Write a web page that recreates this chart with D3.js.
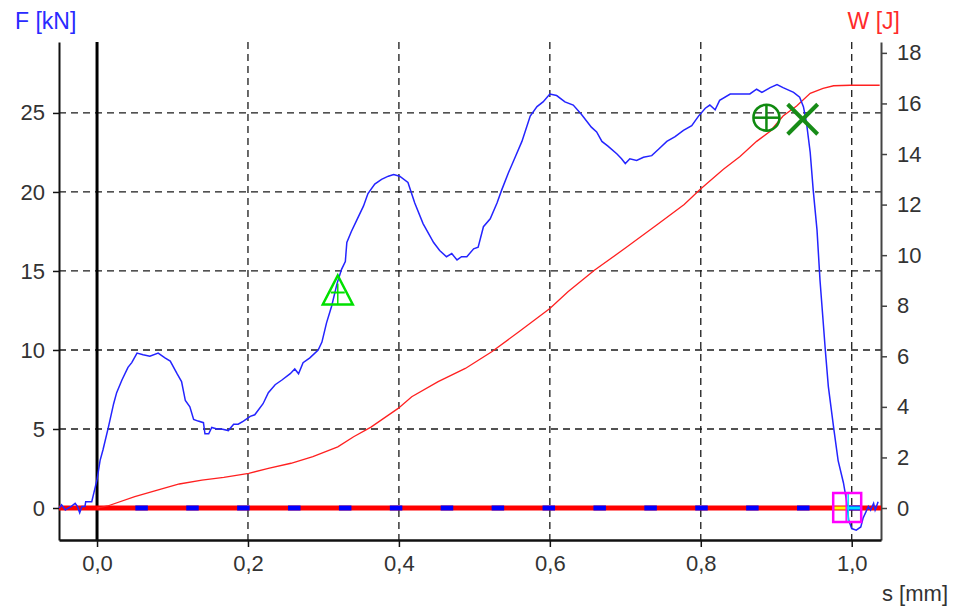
<!DOCTYPE html>
<html>
<head>
<meta charset="utf-8">
<script src="https://cdn.jsdelivr.net/npm/d3@7"></script>
<style>
  body { margin: 0; background: #fff; }
  text { font-family: "Liberation Sans", Arial, sans-serif; }
</style>
</head>
<body>
<div id="chart"></div>
<script>
// force curve F [kN] over travel s [mm]
const forceS = [-0.050,-0.047,-0.042,-0.038,-0.034,-0.029,-0.026,-0.023,-0.020,-0.016,-0.015,-0.007,-0.005,0.000,0.004,0.008,0.015,0.022,0.026,0.033,0.041,0.046,0.053,0.061,0.070,0.081,0.090,0.097,0.106,0.112,0.117,0.123,0.128,0.134,0.141,0.143,0.148,0.152,0.159,0.165,0.174,0.181,0.187,0.194,0.203,0.209,0.220,0.227,0.236,0.245,0.256,0.262,0.267,0.273,0.282,0.293,0.298,0.304,0.311,0.318,0.324,0.329,0.331,0.337,0.344,0.353,0.359,0.368,0.377,0.386,0.393,0.401,0.412,0.421,0.432,0.446,0.454,0.463,0.470,0.477,0.483,0.490,0.499,0.505,0.512,0.521,0.530,0.536,0.545,0.554,0.563,0.574,0.583,0.591,0.600,0.609,0.620,0.631,0.642,0.655,0.662,0.669,0.677,0.689,0.695,0.700,0.706,0.715,0.724,0.735,0.744,0.755,0.766,0.777,0.788,0.797,0.806,0.812,0.819,0.825,0.839,0.852,0.865,0.874,0.881,0.892,0.901,0.909,0.923,0.931,0.936,0.940,0.945,0.949,0.954,0.958,0.962,0.965,0.969,0.976,0.982,0.989,0.993,0.994,0.996,1.000,1.006,1.012,1.015,1.019,1.022,1.025,1.029,1.031,1.035];
const forceKN = [0.0,0.2,-0.13,0.0,0.1,0.3,0.1,-0.3,0.1,0.1,0.4,0.4,0.8,1.8,3.0,3.7,5.1,6.6,7.3,8.1,8.9,9.2,9.8,9.7,9.6,9.8,9.5,9.3,8.5,8.0,6.8,6.4,5.6,5.5,5.4,4.7,4.7,5.1,5.0,5.0,4.9,5.3,5.3,5.5,5.8,5.9,6.6,7.3,7.8,8.1,8.5,8.8,8.5,9.2,9.5,10.0,10.5,11.7,12.8,14.2,15.1,15.6,16.8,17.5,18.2,19.1,19.9,20.5,20.8,21.0,21.1,21.0,20.6,19.3,18.0,16.8,16.3,15.9,16.1,15.7,15.9,15.9,16.4,16.5,17.8,18.3,19.3,20.1,21.2,22.2,23.2,24.8,25.4,25.7,26.2,26.1,25.7,25.5,24.9,24.1,23.8,23.2,22.9,22.4,22.1,21.8,22.1,22.0,22.2,22.3,22.7,23.2,23.5,23.9,24.2,24.8,25.3,25.5,25.2,25.8,26.2,26.2,26.2,26.5,26.3,26.6,26.8,26.6,26.3,26.0,25.4,24.4,22.5,20.1,17.6,14.4,11.9,10.0,7.7,5.1,3.0,1.6,0.5,0.1,-0.76,-1.3,-1.4,-1.2,-0.65,-0.23,0.1,-0.13,0.3,-0.13,0.4];

// work curve W [J]
const workS = [0.000,0.014,0.050,0.080,0.109,0.139,0.168,0.201,0.227,0.257,0.286,0.319,0.340,0.363,0.399,0.417,0.452,0.488,0.523,0.559,0.600,0.624,0.659,0.701,0.742,0.778,0.799,0.830,0.852,0.874,0.892,0.909,0.927,0.945,0.962,0.976,0.998,1.037];
const workJ = [0,0.08,0.45,0.71,0.95,1.10,1.21,1.37,1.57,1.77,2.03,2.42,2.82,3.20,3.94,4.40,5.00,5.52,6.18,6.97,7.89,8.55,9.40,10.30,11.20,12.00,12.60,13.40,13.90,14.50,14.90,15.50,15.90,16.40,16.60,16.70,16.72,16.72];

// tick values
const sTicks = [0, 0.2, 0.4, 0.6, 0.8, 1.0];
const fTicks = [0, 5, 10, 15, 20, 25];
const wTicks = [0, 2, 4, 6, 8, 10, 12, 14, 16, 18];

// evaluation markers [s, F]
const markTriangle = [0.319, 13.7];
const markCircle = [0.887, 24.7];
const markCross = [0.935, 24.6];
const markSquare = [0.994, 0.0];

const width = 953, height = 608;
const margin = { top: 42, right: 72, bottom: 68, left: 59 };

const svg = d3.select('#chart')
  .append('svg')
  .attr('width', width)
  .attr('height', height)
  .style('background', 'white');

const x = d3.scaleLinear()
  .domain([-0.0504, 1.0388])
  .range([margin.left, width - margin.right]);

const yF = d3.scaleLinear()
  .domain([-2.025, 29.49])
  .range([height - margin.bottom, margin.top]);

const yW = d3.scaleLinear()
  .domain([-1.265, 18.43])
  .range([height - margin.bottom, margin.top]);

const x0 = x.range()[0], x1 = x.range()[1];
const yTop = margin.top, yBot = height - margin.bottom;

// dashed grid
const grid = svg.append('g')
  .attr('stroke', '#1a1a1a')
  .attr('stroke-width', 1.3)
  .attr('stroke-dasharray', '7,5');

grid.selectAll('.vgrid')
  .data(sTicks.filter(d => d !== 0))
  .enter().append('line')
    .attr('x1', d => x(d)).attr('x2', d => x(d))
    .attr('y1', yTop).attr('y2', yBot);

grid.selectAll('.hgrid')
  .data(fTicks.filter(d => d !== 0))
  .enter().append('line')
    .attr('x1', x0).attr('x2', x1)
    .attr('y1', d => yF(d)).attr('y2', d => yF(d));

// s = 0 line
svg.append('line')
  .attr('x1', x(0)).attr('x2', x(0))
  .attr('y1', yTop).attr('y2', yBot)
  .attr('stroke', 'black')
  .attr('stroke-width', 3);

// axes
function styleAxis(g, color) {
  g.selectAll('path').attr('stroke', color).attr('stroke-width', 2);
  g.selectAll('line').attr('stroke', color).attr('stroke-width', 1.5);
  g.selectAll('text')
    .attr('fill', '#333')
    .style('font-size', '22px');
}

const leftAxis = svg.append('g')
  .attr('transform', `translate(${x0},0)`)
  .call(d3.axisLeft(yF).tickValues(fTicks).tickSize(6).tickSizeOuter(0).tickPadding(8));
styleAxis(leftAxis, '#111');

const rightAxis = svg.append('g')
  .attr('transform', `translate(${x1},0)`)
  .call(d3.axisRight(yW).tickValues(wTicks).tickSize(6).tickSizeOuter(0).tickPadding(10));
styleAxis(rightAxis, '#444');

const bottomAxis = svg.append('g')
  .attr('transform', `translate(0,${yBot})`)
  .call(d3.axisBottom(x).tickValues(sTicks).tickSize(7).tickSizeOuter(0).tickPadding(8)
    .tickFormat(d => d3.format('.1f')(d).replace('.', ',')));
styleAxis(bottomAxis, '#111');
bottomAxis.select('path').attr('stroke-width', 2.5);

// zero baselines: W (red, full width) and F (blue dashes from s = 0)
const zeroLine = [x.domain()[0], x.domain()[1]];
svg.append('line')
  .attr('x1', x(zeroLine[0])).attr('x2', x(zeroLine[1]))
  .attr('y1', yF(0)).attr('y2', yF(0))
  .attr('stroke', '#ff0000')
  .attr('stroke-width', 5);
svg.append('line')
  .attr('x1', x(0)).attr('x2', x(zeroLine[1]))
  .attr('y1', yF(0)).attr('y2', yF(0))
  .attr('stroke', '#0000ff')
  .attr('stroke-width', 5)
  .attr('stroke-dasharray', '12.5,38.4')
  .attr('stroke-dashoffset', 12.6);

// curves
const workLine = d3.line()
  .x((d, i) => x(workS[i]))
  .y(d => yW(d));

svg.append('path')
  .datum(workJ)
  .attr('fill', 'none')
  .attr('stroke', '#ff2020')
  .attr('stroke-width', 1.3)
  .attr('d', workLine);

const forceLine = d3.line()
  .x((d, i) => x(forceS[i]))
  .y(d => yF(d));

svg.append('path')
  .datum(forceKN)
  .attr('fill', 'none')
  .attr('stroke', '#2424ff')
  .attr('stroke-width', 1.5)
  .attr('d', forceLine);

// markers
const tx = x(markTriangle[0]), ty = yF(markTriangle[1]);
const tri = svg.append('g').attr('stroke', '#00e000').attr('fill', 'none').attr('stroke-width', 2.5);
tri.append('path')
  .attr('d', `M${tx},${ty - 16} L${tx + 15},${ty + 13} L${tx - 15},${ty + 13} Z`);
tri.append('line')
  .attr('x1', tx - 7).attr('x2', tx + 7)
  .attr('y1', ty + 1).attr('y2', ty + 1)
  .attr('stroke-width', 2);
tri.append('line')
  .attr('x1', tx).attr('x2', tx)
  .attr('y1', ty - 8).attr('y2', ty + 13)
  .attr('stroke-width', 1.5);

const cx = x(markCircle[0]), cy = yF(markCircle[1]);
const circ = svg.append('g').attr('stroke', '#108a10').attr('fill', 'none').attr('stroke-width', 2.5);
circ.append('circle').attr('cx', cx).attr('cy', cy).attr('r', 13);
circ.append('line').attr('x1', cx - 13).attr('x2', cx + 13).attr('y1', cy).attr('y2', cy);
circ.append('line').attr('x1', cx).attr('x2', cx).attr('y1', cy - 13).attr('y2', cy + 13);

const kx = x(markCross[0]), ky = yF(markCross[1]);
const cross = svg.append('g').attr('stroke', '#178c17').attr('stroke-width', 4);
cross.append('line').attr('x1', kx - 15).attr('x2', kx + 15).attr('y1', ky - 15).attr('y2', ky + 15);
cross.append('line').attr('x1', kx - 15).attr('x2', kx + 15).attr('y1', ky + 15).attr('y2', ky - 15);

const qx = x(markSquare[0]), qy = yF(markSquare[1]);
const sq = svg.append('g');
sq.append('line').attr('x1', qx - 13).attr('x2', qx).attr('y1', qy).attr('y2', qy)
  .attr('stroke', '#ffff00').attr('stroke-width', 3);
sq.append('line').attr('x1', qx).attr('x2', qx + 14).attr('y1', qy).attr('y2', qy)
  .attr('stroke', '#00e0ff').attr('stroke-width', 3);
sq.append('line').attr('x1', qx + 1).attr('x2', qx + 1).attr('y1', qy - 14).attr('y2', qy + 14)
  .attr('stroke', '#00e0ff').attr('stroke-width', 1.5);
sq.append('rect')
  .attr('x', qx - 14).attr('y', qy - 15)
  .attr('width', 28).attr('height', 29)
  .attr('fill', 'none')
  .attr('stroke', '#ff00ff')
  .attr('stroke-width', 2.5);
sq.append('line').attr('x1', qx - 1).attr('x2', qx - 1).attr('y1', qy - 15).attr('y2', qy + 14)
  .attr('stroke', '#ff00ff').attr('stroke-width', 1.5);

// axis titles
svg.append('text')
  .attr('x', 15).attr('y', 29)
  .attr('fill', '#2a2aff')
  .style('font-size', '23px')
  .text('F [kN]');

svg.append('text')
  .attr('x', 900).attr('y', 29)
  .attr('text-anchor', 'end')
  .attr('fill', '#ff2a2a')
  .style('font-size', '23px')
  .text('W [J]');

svg.append('text')
  .attr('x', 948).attr('y', 601)
  .attr('text-anchor', 'end')
  .attr('fill', '#333')
  .style('font-size', '22px')
  .text('s [mm]');
</script>
</body>
</html>
